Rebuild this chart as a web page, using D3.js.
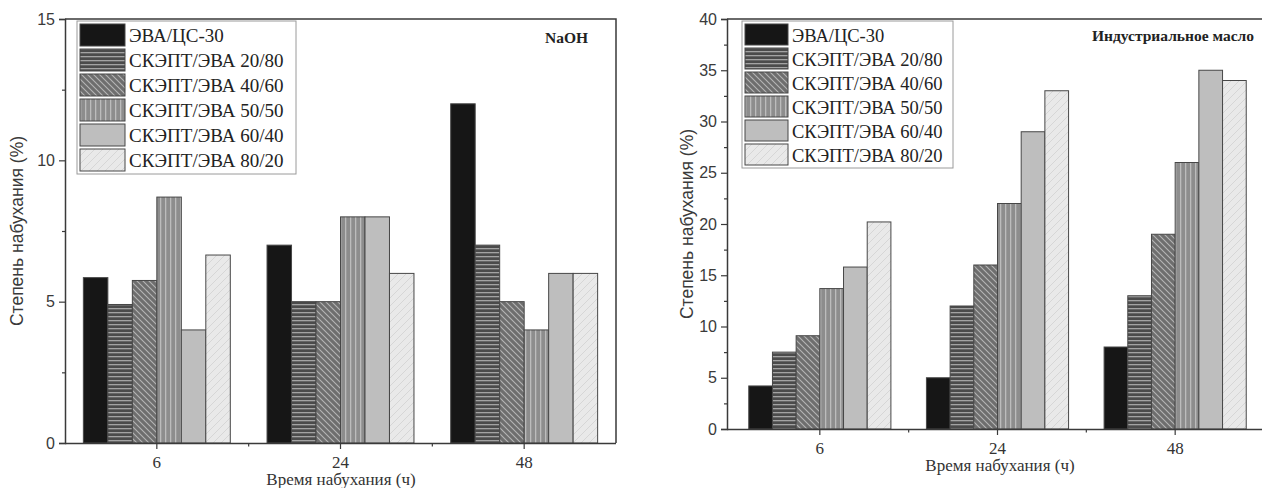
<!DOCTYPE html>
<html>
<head>
<meta charset="utf-8">
<script src="https://cdn.jsdelivr.net/npm/d3@7"></script>
<style>
  body { margin: 0; background: #fff; }
  svg { display: block; }
</style>
</head>
<body>
<svg id="chart" width="1262" height="488"></svg>
<script>
// time of swelling, h
const hours = ["6", "24", "48"];
const series = ["ЭВА/ЦС-30", "СКЭПТ/ЭВА 20/80", "СКЭПТ/ЭВА 40/60", "СКЭПТ/ЭВА 50/50", "СКЭПТ/ЭВА 60/40", "СКЭПТ/ЭВА 80/20"];

// NaOH, per hour group, one value per series
const naohValues = [
  [5.85, 4.9, 5.75, 8.7, 4.0, 6.65],
  [7, 5, 5, 8, 8, 6],
  [12, 7, 5, 4, 6, 6]
];
// industrial oil
const oilValues = [
  [4.2, 7.5, 9.1, 13.7, 15.8, 20.2],
  [5, 12, 16, 22, 29, 33],
  [8, 13, 19, 26, 35, 34]
];

const naohTicks = [0, 5, 10, 15];
const oilTicks = [0, 5, 10, 15, 20, 25, 30, 35, 40];

const yTitle = "Степень набухания (%)";
const xTitle = "Время набухания (ч)";

const svg = d3.select("#chart");
const defs = svg.append("defs");

// fill patterns, one per series
function makePattern(id, w, h, bg, draw) {
  const p = defs.append("pattern")
    .attr("id", id)
    .attr("patternUnits", "userSpaceOnUse")
    .attr("width", w).attr("height", h);
  p.append("rect").attr("width", w).attr("height", h).attr("fill", bg);
  if (draw) draw(p);
}
makePattern("p0", 4, 4, "#161616");
makePattern("p1", 4, 4, "#4b4b4b", p => {
  p.append("rect").attr("x", 0).attr("y", 0).attr("width", 4).attr("height", 1.3).attr("fill", "#a3a3a3");
});
makePattern("p2", 6, 6, "#6e6e6e", p => {
  p.append("path").attr("d", "M-1,-1 L7,7 M-4,2 L2,8 M4,-2 L8,2")
    .attr("stroke", "#b4b4b4").attr("stroke-width", 1.1);
});
makePattern("p3", 5, 5, "#8d8d8d", p => {
  p.append("rect").attr("x", 0).attr("y", 0).attr("width", 1.3).attr("height", 5).attr("fill", "#bcbcbc");
});
makePattern("p4", 4, 4, "#bebebe");
makePattern("p5", 8, 8, "#e9e9e9", p => {
  p.append("path").attr("d", "M-1,9 L9,-1 M-5,5 L5,-5 M3,13 L13,3")
    .attr("stroke", "#d6d6d6").attr("stroke-width", 1);
});
const fills = series.map((s, i) => `url(#p${i})`);

function drawChart(opt) {
  const g = svg.append("g");
  const values = opt.values;

  const x0 = d3.scaleBand()
    .domain(hours)
    .range(opt.xRange)
    .paddingInner(0.2)
    .paddingOuter(0.1);
  const x1 = d3.scaleBand()
    .domain(series)
    .range([0, x0.bandwidth()]);
  const y = d3.scaleLinear()
    .domain([0, opt.yMax])
    .range([opt.bottom, opt.top]);

  // bars
  hours.forEach((h, hi) => {
    g.selectAll(".bar-" + hi)
      .data(values[hi]).enter()
      .append("rect")
      .attr("class", "bar-" + hi)
      .attr("x", (d, i) => x0(h) + x1(series[i]))
      .attr("y", d => y(d))
      .attr("width", x1.bandwidth())
      .attr("height", d => y(0) - y(d))
      .attr("fill", (d, i) => fills[i])
      .attr("stroke", "#474747")
      .attr("stroke-width", 1);
  });

  // frame
  const right = opt.frameRight;
  g.append("path")
    .attr("d", `M${opt.axisX},${opt.top} H${right} V${opt.bottom}`)
    .attr("fill", "none").attr("stroke", "#3a3a3a").attr("stroke-width", 1.5);

  // y axis
  const yAxis = d3.axisLeft(y).tickValues(opt.yTicks).tickSize(6).tickPadding(4);
  const ya = g.append("g").attr("transform", `translate(${opt.axisX},0)`).call(yAxis);
  ya.select(".domain").attr("stroke", "#3a3a3a").attr("stroke-width", 1.5);
  ya.selectAll(".tick line").attr("stroke", "#3a3a3a").attr("stroke-width", 1.2);
  ya.selectAll(".tick text")
    .attr("font-family", "Arial, 'Liberation Sans', sans-serif")
    .attr("font-size", 16).attr("fill", "#3a3a3a");
  const minorY = d3.range(opt.yTicks.length - 1).map(i => (opt.yTicks[i] + opt.yTicks[i + 1]) / 2);
  g.append("g").attr("transform", `translate(${opt.axisX},0)`)
    .call(d3.axisLeft(y).tickValues(minorY).tickSize(3).tickFormat(""))
    .call(a => a.select(".domain").remove())
    .selectAll(".tick line").attr("stroke", "#3a3a3a").attr("stroke-width", 1.2);

  // x axis
  const xa = g.append("g").attr("transform", `translate(0,${opt.bottom})`)
    .call(d3.axisBottom(x0).tickSize(6).tickPadding(7).tickSizeOuter(0));
  xa.select(".domain").attr("d", `M${opt.axisX},0.5 H${right}`)
    .attr("stroke", "#3a3a3a").attr("stroke-width", 1.5);
  xa.selectAll(".tick line").attr("stroke", "#3a3a3a").attr("stroke-width", 1.2);
  xa.selectAll(".tick text")
    .attr("font-family", "'Times New Roman', 'Liberation Serif', serif")
    .attr("font-size", 17).attr("fill", "#333");
  const step = x0.step();
  const minorX = hours.slice(1).map(h => x0(h) - step * 0.2 / 2);
  g.selectAll(".minor-x")
    .data(minorX).enter()
    .append("line")
    .attr("class", "minor-x")
    .attr("x1", d => d).attr("x2", d => d)
    .attr("y1", opt.bottom).attr("y2", opt.bottom + 3.5)
    .attr("stroke", "#3a3a3a").attr("stroke-width", 1.2);

  // axis titles
  g.append("text")
    .attr("transform", `translate(${opt.yTitleX},${(opt.top + opt.bottom) / 2}) rotate(-90)`)
    .attr("text-anchor", "middle")
    .attr("font-family", "Arial, 'Liberation Sans', sans-serif")
    .attr("font-size", 17.5).attr("fill", "#3a3a3a")
    .text(yTitle);
  g.append("text")
    .attr("x", opt.xTitleX).attr("y", opt.xTitleY)
    .attr("text-anchor", "middle")
    .attr("font-family", "'Times New Roman', 'Liberation Serif', serif")
    .attr("font-size", 17).attr("fill", "#333")
    .text(xTitle);

  // label in corner
  g.append("text")
    .attr("x", opt.labelX).attr("y", opt.labelY)
    .attr("text-anchor", "end")
    .attr("font-family", "'Times New Roman', 'Liberation Serif', serif")
    .attr("font-weight", "bold")
    .attr("font-size", 15.5).attr("fill", "#222")
    .text(opt.label);

  // legend
  const lg = g.append("g").attr("transform", `translate(${opt.legX},${opt.legY})`);
  lg.append("rect")
    .attr("x", 0).attr("y", 0)
    .attr("width", opt.legW).attr("height", opt.legRow * series.length + 3)
    .attr("fill", "#fff").attr("stroke", "#9a9a9a").attr("stroke-width", 1);
  const rows = lg.selectAll(".leg")
    .data(series).enter()
    .append("g")
    .attr("class", "leg")
    .attr("transform", (d, i) => `translate(3,${2 + i * opt.legRow})`);
  rows.append("rect")
    .attr("x", 0).attr("y", 1)
    .attr("width", opt.swW).attr("height", opt.legRow - 3)
    .attr("fill", (d, i) => fills[i])
    .attr("stroke", "#474747").attr("stroke-width", 1);
  rows.append("text")
    .attr("x", opt.swW + 4).attr("y", opt.legRow / 2 + 6.5)
    .attr("font-family", "'Times New Roman', 'Liberation Serif', serif")
    .attr("font-size", opt.legFont).attr("fill", "#222")
    .text(d => d);
}

drawChart({
  values: naohValues, yMax: 15, yTicks: naohTicks,
  xRange: [65, 616], axisX: 65, frameRight: 616, top: 19, bottom: 443,
  yTitleX: 23, xTitleX: 341, xTitleY: 485,
  label: "NaOH", labelX: 588, labelY: 43,
  legX: 77, legY: 21, legW: 219, legRow: 25, swW: 45, legFont: 19
});

drawChart({
  values: oilValues, yMax: 40, yTicks: oilTicks,
  xRange: [731, 1264], axisX: 727, frameRight: 1266, top: 19, bottom: 429,
  yTitleX: 693, xTitleX: 1000, xTitleY: 471,
  label: "Индустриальное масло", labelX: 1254, labelY: 41,
  legX: 742, legY: 21, legW: 211, legRow: 24, swW: 43, legFont: 18.5
});
</script>
</body>
</html>
